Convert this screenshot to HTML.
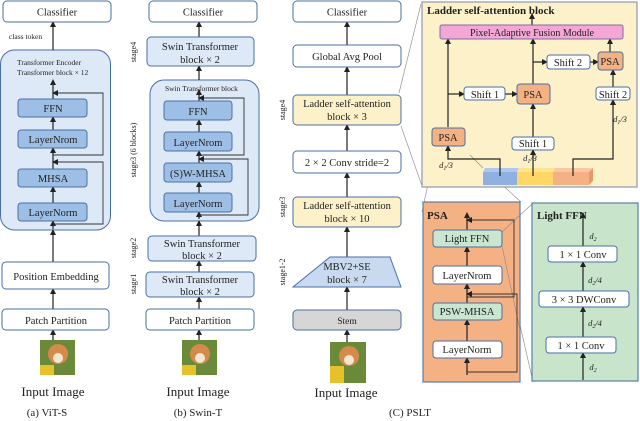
<!DOCTYPE html>
<html><head><meta charset="utf-8"><style>
html,body{margin:0;padding:0;background:#fff}
svg{display:block}
text{font-family:"Liberation Serif",serif;fill:#222}
</style></head><body>
<svg width="640" height="421" viewBox="0 0 640 421" xmlns="http://www.w3.org/2000/svg">
<defs>
<marker id="a" markerWidth="6" markerHeight="6" refX="3" refY="3" orient="auto" markerUnits="userSpaceOnUse"><path d="M0,0 L6,3 L0,6 z" fill="#222"/></marker>
</defs>
<!-- zoom lines -->
<g stroke="#888" stroke-width="0.6" fill="none">
<line x1="399" y1="93" x2="421" y2="4"/>
<line x1="401" y1="126" x2="422" y2="186"/>
<line x1="436" y1="147" x2="422" y2="212"/>
<line x1="464" y1="150" x2="521" y2="202"/>
<line x1="502" y1="232" x2="532" y2="204"/>
<line x1="502" y1="246" x2="533" y2="382"/>
</g>
<!-- containers -->
<g stroke="#4a6fa5" stroke-width="1">
<rect x="0.5" y="50" width="110" height="180" rx="14" fill="#dde9f6"/>
<rect x="150" y="80" width="109" height="141" rx="14" fill="#dde9f6"/>
</g>
<rect x="422" y="2" width="215" height="185" fill="#fdf1c9" stroke="#8a9ab8" stroke-width="1.2"/>
<rect x="423" y="202" width="97" height="180" fill="#f4b183" stroke="#5a7fa5" stroke-width="1.2"/>
<rect x="532" y="203" width="106" height="178" fill="#c8e5cc" stroke="#5a7fa5" stroke-width="1.2"/>
<g stroke="#888" stroke-width="0.6" fill="none">
<line x1="470" y1="155" x2="483" y2="168"/>
<line x1="502" y1="246" x2="520" y2="330"/>
<line x1="502" y1="232" x2="520" y2="215"/>
</g>
<!-- arrows -->
<g stroke="#222" stroke-width="1.2" fill="none" marker-end="url(#a)">
<line x1="53" y1="50" x2="53" y2="24"/>
<line x1="53" y1="262" x2="53" y2="232"/>
<line x1="53" y1="309" x2="53" y2="291"/>
<line x1="53" y1="340" x2="53" y2="332"/>
<line x1="53" y1="229" x2="53" y2="223"/>
<line x1="53" y1="203" x2="53" y2="189"/>
<line x1="53" y1="169" x2="53" y2="150"/>
<line x1="53" y1="130" x2="53" y2="119"/>
<line x1="53" y1="99" x2="53" y2="82"/>
<line x1="199" y1="37" x2="199" y2="24"/>
<line x1="199" y1="80" x2="199" y2="68"/>
<line x1="199" y1="236" x2="199" y2="223"/>
<line x1="199" y1="272" x2="199" y2="263"/>
<line x1="199" y1="309" x2="199" y2="299"/>
<line x1="199" y1="340" x2="199" y2="332"/>
<line x1="199" y1="219" x2="199" y2="214"/>
<line x1="199" y1="193" x2="199" y2="184"/>
<line x1="199" y1="163" x2="199" y2="153"/>
<line x1="199" y1="132" x2="199" y2="122"/>
<line x1="199" y1="101" x2="199" y2="92"/>
<line x1="347" y1="45" x2="347" y2="24"/>
<line x1="347" y1="95" x2="347" y2="69"/>
<line x1="347" y1="151" x2="347" y2="127"/>
<line x1="347" y1="197" x2="347" y2="175"/>
<line x1="347" y1="257" x2="347" y2="229"/>
<line x1="347" y1="310" x2="347" y2="289"/>
<line x1="347" y1="342" x2="347" y2="332"/>
<line x1="532" y1="25" x2="532" y2="16"/>
<line x1="448" y1="127" x2="448" y2="41"/>
<line x1="533" y1="84" x2="533" y2="41"/>
<line x1="610" y1="52" x2="610" y2="41"/>
<line x1="448" y1="94" x2="462" y2="94"/>
<line x1="505" y1="94" x2="515" y2="94"/>
<line x1="533" y1="62" x2="545" y2="62"/>
<line x1="590" y1="62" x2="596" y2="62"/>
<line x1="613" y1="87" x2="613" y2="72"/>
<line x1="533" y1="137" x2="533" y2="106"/>
<line x1="533" y1="168" x2="533" y2="152"/>
<polyline points="500,168 500,159 448,159 448,148"/>
<polyline points="573,168 573,159 613,159 613,102"/>
<line x1="467" y1="375" x2="467" y2="360"/>
<line x1="467" y1="341" x2="467" y2="322"/>
<line x1="467" y1="303" x2="467" y2="286"/>
<line x1="467" y1="266" x2="467" y2="249"/>
<line x1="467" y1="230" x2="467" y2="215"/>
<line x1="583" y1="380" x2="583" y2="355"/>
<line x1="583" y1="337" x2="583" y2="309"/>
<line x1="583" y1="291" x2="583" y2="264"/>
<line x1="583" y1="246" x2="583" y2="215"/>
</g>
<g stroke="#333" stroke-width="0.9" fill="none" marker-end="url(#a)">
<polyline points="53,224 103,224 103,162 55,162"/>
<polyline points="53,155 103,155 103,93 55,93"/>
<polyline points="199,215 248,215 248,159 201,159"/>
<polyline points="199,155 244,155 244,98 201,98"/>
<polyline points="467,372 517,372 517,294 469,294"/>
<polyline points="467,297 514,297 514,220 469,220"/>
</g>
<!-- boxes -->
<g stroke="#4a6fa5" stroke-width="1">
<rect x="3" y="1" width="108" height="21" rx="4" fill="#fff"/>
<rect x="2" y="262" width="107" height="27" rx="4" fill="#fff"/>
<rect x="2" y="309" width="107" height="21" rx="4" fill="#fff"/>
<g fill="#9dbfe6"><rect x="18" y="99" width="69" height="18" rx="3"/><rect x="18" y="130" width="69" height="18" rx="3"/><rect x="18" y="169" width="69" height="18" rx="3"/><rect x="18" y="203" width="69" height="18" rx="3"/></g>
<rect x="149" y="1" width="108" height="21" rx="4" fill="#fff"/>
<rect x="147" y="37" width="107" height="29" rx="4" fill="#dde9f6"/>
<g fill="#9dbfe6"><rect x="164" y="101" width="68" height="19" rx="3"/><rect x="164" y="132" width="68" height="19" rx="3"/><rect x="164" y="163" width="68" height="19" rx="3"/><rect x="164" y="193" width="68" height="19" rx="3"/></g>
<rect x="148" y="236" width="108" height="25" rx="4" fill="#dde9f6"/>
<rect x="146" y="272" width="108" height="25" rx="4" fill="#dde9f6"/>
<rect x="146" y="309" width="108" height="21" rx="4" fill="#fff"/>
<rect x="293" y="1" width="108" height="21" rx="4" fill="#fff"/>
<rect x="293" y="45" width="108" height="22" rx="4" fill="#fff"/>
<rect x="293" y="95" width="108" height="30" rx="4" fill="#fdf1c9"/>
<rect x="293" y="151" width="108" height="22" rx="4" fill="#fff"/>
<rect x="293" y="197" width="108" height="30" rx="4" fill="#fdf1c9"/>
<polygon points="330,257 390,257 401,287 293,287" fill="#c9daf0"/>
<rect x="293" y="310" width="108" height="20" rx="4" fill="#d6d6d6"/>
<rect x="440" y="25" width="183" height="14" rx="2" fill="#f4a6d7" stroke="#7a6fa0"/>
<rect x="547" y="55" width="43" height="14" rx="3" fill="#fff"/>
<rect x="598" y="52" width="25" height="18" rx="3" fill="#f4b183"/>
<rect x="464" y="87" width="41" height="13" rx="3" fill="#fff"/>
<rect x="517" y="84" width="33" height="20" rx="3" fill="#f4b183"/>
<rect x="596" y="87" width="34" height="13" rx="3" fill="#fff"/>
<rect x="432" y="128" width="33" height="18" rx="3" fill="#f4b183"/>
<rect x="512" y="137" width="42" height="13" rx="3" fill="#fff"/>
<rect x="433" y="230" width="69" height="17" rx="3" fill="#c9e6d0"/>
<rect x="433" y="266" width="69" height="18" rx="3" fill="#fff"/>
<rect x="433" y="303" width="69" height="17" rx="3" fill="#c9e6d0"/>
<rect x="433" y="341" width="69" height="17" rx="3" fill="#fff"/>
<rect x="548" y="246" width="69" height="16" rx="3" fill="#fff"/>
<rect x="539" y="291" width="90" height="16" rx="3" fill="#fff"/>
<rect x="546" y="337" width="70" height="16" rx="3" fill="#fff"/>
</g>
<!-- cubes -->
<polygon points="483,172 517,172 517,185 483,185" fill="#8fb0e0"/>
<polygon points="485,168 519,168 517,172 483,172" fill="#b0c8ec"/>
<polygon points="517,172 553,172 553,185 517,185" fill="#fed766"/>
<polygon points="519,168 555,168 553,172 517,172" fill="#ffe48f"/>
<polygon points="553,172 589,172 589,185 553,185" fill="#f4b183"/>
<polygon points="555,168 593,168 589,172 553,172" fill="#f8c8a5"/>
<polygon points="589,172 593,168 593,181 589,185" fill="#e39a6c"/>
<g stroke="#222" stroke-width="1.2" fill="none">
<line x1="500" y1="168" x2="500" y2="176"/><line x1="533" y1="168" x2="533" y2="176"/><line x1="573" y1="168" x2="573" y2="176"/>
</g>
<!-- images -->
<g>
<rect x="40" y="340" width="35" height="35" fill="#6a8a3a"/><circle cx="58" cy="354" r="10" fill="#d48a4a"/><circle cx="58" cy="358" r="5" fill="#f3e6d2"/><rect x="40" y="365" width="14" height="10" fill="#e6c22a"/>
<rect x="182" y="340" width="35" height="35" fill="#6a8a3a"/><circle cx="200" cy="354" r="10" fill="#d48a4a"/><circle cx="200" cy="358" r="5" fill="#f3e6d2"/><rect x="182" y="365" width="14" height="10" fill="#e6c22a"/>
<rect x="330" y="342" width="36" height="41" fill="#6a8a3a"/><circle cx="349" cy="356" r="10" fill="#d48a4a"/><circle cx="349" cy="360" r="5" fill="#f3e6d2"/><rect x="330" y="366" width="14" height="17" fill="#e6c22a"/>
</g>
<!-- text -->
<g font-size="10.5" text-anchor="middle">
<text x="57" y="15.5">Classifier</text>
<text x="53" y="112">FFN</text><text x="53" y="143">LayerNrom</text><text x="53" y="182">MHSA</text><text x="53" y="216">LayerNorm</text>
<text x="56" y="280">Position Embedding</text><text x="56" y="324">Patch Partition</text>
<text x="203" y="15.5">Classifier</text>
<text x="200" y="50">Swin Transformer</text><text x="200" y="63">block × 2</text>
<text x="198" y="115">FFN</text><text x="198" y="146">LayerNrom</text><text x="198" y="177">(S)W-MHSA</text><text x="198" y="207">LayerNorm</text>
<text x="202" y="247">Swin Transformer</text><text x="202" y="259">block × 2</text>
<text x="200" y="283">Swin Transformer</text><text x="200" y="295">block × 2</text>
<text x="200" y="324">Patch Partition</text>
<text x="347" y="15.5">Classifier</text><text x="347" y="60">Global Avg Pool</text>
<text x="347" y="107">Ladder self-attention</text><text x="347" y="120">block × 3</text>
<text x="347" y="166">2 × 2 Conv stride=2</text>
<text x="347" y="209">Ladder self-attention</text><text x="347" y="222">block × 10</text>
<text x="347" y="270">MBV2+SE</text><text x="347" y="283">block × 7</text>
<text x="347" y="324" font-size="9.5">Stem</text>
<text x="532" y="36" font-size="10">Pixel-Adaptive Fusion Module</text>
<text x="568" y="66">Shift 2</text><text x="610" y="65">PSA</text>
<text x="485" y="98">Shift 1</text><text x="533" y="98">PSA</text><text x="613" y="98">Shift 2</text>
<text x="448" y="141">PSA</text><text x="533" y="147">Shift 1</text>
<text x="467" y="242">Light FFN</text><text x="467" y="279">LayerNrom</text><text x="467" y="315">PSW-MHSA</text><text x="467" y="353">LayerNorm</text>
<text x="583" y="258">1 × 1 Conv</text><text x="584" y="303">3 × 3 DWConv</text><text x="581" y="349">1 × 1 Conv</text>
</g>
<g font-size="8.5" font-style="italic" text-anchor="middle">
<text x="446" y="168">d<tspan font-size="6" dy="2">1</tspan><tspan dy="-2">/3</tspan></text>
<text x="530" y="161">d<tspan font-size="6" dy="2">1</tspan><tspan dy="-2">/3</tspan></text>
<text x="620" y="122">d<tspan font-size="6" dy="2">1</tspan><tspan dy="-2">/3</tspan></text>
<text x="593" y="239">d<tspan font-size="6" dy="2">2</tspan></text>
<text x="595" y="283">d<tspan font-size="6" dy="2">2</tspan><tspan dy="-2">/4</tspan></text>
<text x="595" y="326">d<tspan font-size="6" dy="2">2</tspan><tspan dy="-2">/4</tspan></text>
<text x="593" y="370">d<tspan font-size="6" dy="2">2</tspan></text>
</g>
<g font-size="7.5">
<text x="9" y="39">class token</text>
<text x="17" y="65">Transformer Encoder</text><text x="17" y="75">Transformer block × 12</text>
<text x="165" y="91">Swin Transformer block</text>
</g>
<g font-size="8" text-anchor="middle">
<text transform="translate(136,52) rotate(-90)">stage4</text>
<text transform="translate(136,150) rotate(-90)">stage3 (6 blocks)</text>
<text transform="translate(136,248) rotate(-90)">stage2</text>
<text transform="translate(136,284) rotate(-90)">stage1</text>
<text transform="translate(285,110) rotate(-90)">stage4</text>
<text transform="translate(285,207) rotate(-90)">stage3</text>
<text transform="translate(285,272) rotate(-90)">stage1-2</text>
</g>
<g font-weight="bold" font-size="11">
<text x="427" y="14">Ladder self-attention block</text>
<text x="427" y="219">PSA</text>
<text x="537" y="219">Light FFN</text>
</g>
<g font-size="13" text-anchor="middle">
<text x="53" y="396">Input Image</text><text x="198" y="396">Input Image</text><text x="346" y="397">Input Image</text>
</g>
<g font-size="11" text-anchor="middle">
<text x="47" y="416">(a) ViT-S</text><text x="198" y="416">(b) Swin-T</text><text x="410" y="416">(C) PSLT</text>
</g>
</svg>
</body></html>
